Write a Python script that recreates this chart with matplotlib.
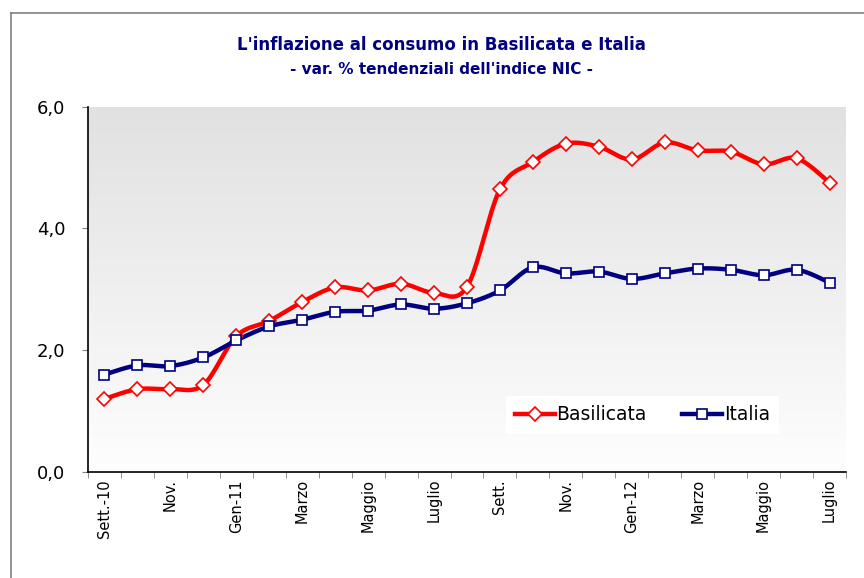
import numpy as np
import matplotlib
matplotlib.use("Agg")
import matplotlib.pyplot as plt
from matplotlib.lines import Line2D

months = ["Sett.-10", "Ott.", "Nov.", "Dic.", "Gen-11", "Feb.", "Marzo", "Apr.",
          "Maggio", "Giu.", "Luglio", "Ago.", "Sett.", "Ott.", "Nov.", "Dic.",
          "Gen-12", "Feb.", "Marzo", "Apr.", "Maggio", "Giu.", "Luglio"]
basilicata = [1.20, 1.36, 1.36, 1.43, 2.23, 2.48, 2.79, 3.03, 2.98, 3.09, 2.94, 3.04,
              4.64, 5.09, 5.39, 5.34, 5.13, 5.41, 5.28, 5.26, 5.05, 5.15, 4.75]
italia = [1.60, 1.75, 1.74, 1.88, 2.16, 2.39, 2.50, 2.63, 2.65, 2.75, 2.68, 2.77,
          2.98, 3.36, 3.26, 3.29, 3.17, 3.26, 3.34, 3.32, 3.23, 3.32, 3.11]
yticks = [0, 2, 4, 6]
ytick_labels = ["0,0", "2,0", "4,0", "6,0"]


def smooth(x, y, n=20):
    """Excel-like smoothed line via cubic Bezier segments."""
    x = np.asarray(x, float)
    y = np.asarray(y, float)
    P = np.column_stack([x, y])
    out = []
    for i in range(len(P) - 1):
        p0 = P[i - 1] if i > 0 else P[i]
        p1 = P[i]
        p2 = P[i + 1]
        p3 = P[i + 2] if i + 2 < len(P) else P[i + 1]
        c1 = p1 + (p2 - p0) / 6.0
        c2 = p2 - (p3 - p1) / 6.0
        t = np.linspace(0, 1, n, endpoint=(i == len(P) - 2))[:, None]
        seg = ((1 - t) ** 3) * p1 + 3 * ((1 - t) ** 2) * t * c1 + 3 * (1 - t) * t ** 2 * c2 + t ** 3 * p2
        out.append(seg)
    seg = np.vstack(out)
    return seg[:, 0], seg[:, 1]


W, H = 864, 578
fig = plt.figure(figsize=(W / 100, H / 100), dpi=100)
fig.patch.set_facecolor("white")

# outer chart border (cropped)
bx, by = 11 / W, 1 - 13 / H
fig.add_artist(Line2D([bx, bx], [0, by], color="#808080", lw=1.2, transform=fig.transFigure))
fig.add_artist(Line2D([bx, 1], [by, by], color="#808080", lw=1.2, transform=fig.transFigure))

ax = fig.add_axes([88 / W, 1 - 472 / H, (846 - 88) / W, (472 - 106.5) / H])
x = np.arange(len(months))
n = len(months)

# gradient background: grey at top, near white at bottom
grad = np.linspace(0.882, 0.995, 256)[:, None]
ax.imshow(np.dstack([grad, grad, grad]), extent=[-0.5, n - 0.5, 0, 6], origin="upper",
          aspect="auto", zorder=0, interpolation="bicubic")
ax.set_xlim(-0.5, n - 0.5)
ax.set_ylim(0, 6)

red = "#FF0000"
navy = "#000080"
for vals, col, mk, ms in [(basilicata, red, "D", 7.0), (italia, navy, "s", 7.5)]:
    sx, sy = smooth(x, vals)
    ax.plot(sx, sy, color=col, lw=3.2, zorder=3, solid_capstyle="round")
    ax.plot(x, vals, linestyle="none", marker=mk, ms=ms, mfc="white", mec=col,
            mew=1.2, zorder=4)

handles = [Line2D([], [], color=red, lw=3.2, marker="D", ms=7.0, mfc="white", mec=red, mew=1.2),
           Line2D([], [], color=navy, lw=3.2, marker="s", ms=7.5, mfc="white", mec=navy, mew=1.2)]
leg = ax.legend(handles, ["Basilicata", "Italia"], ncol=2, loc="center",
                bbox_to_anchor=(0.7315, 0.156), frameon=True, fancybox=False,
                facecolor="white", edgecolor="none", framealpha=1,
                prop={"family": "DejaVu Sans", "size": 13.5},
                handlelength=2.1, handletextpad=0.1, columnspacing=1.9,
                borderpad=0.5, borderaxespad=0)
leg.get_frame().set_linewidth(0)

for s in ["top", "right"]:
    ax.spines[s].set_visible(False)
for s in ["left", "bottom"]:
    ax.spines[s].set_color("black")
    ax.spines[s].set_linewidth(1.2)

ax.set_yticks(yticks)
ax.set_yticklabels(ytick_labels, fontsize=13, family="DejaVu Sans")
ax.tick_params(axis="y", direction="out", length=4.5, color="#808080", pad=12)

ax.set_xticks(x[::2])
ax.set_xticklabels(months[::2], rotation=90, fontsize=10.5, family="DejaVu Sans")
ax.tick_params(axis="x", which="major", length=0, pad=5)
ax.set_xticks(np.arange(-0.5, n, 1.0), minor=True)
ax.tick_params(axis="x", which="minor", direction="out", length=4, color="#808080")

fig.text(0.511, 1 - 45 / H, "L'inflazione al consumo in Basilicata e Italia",
         ha="center", va="center", color=navy, fontsize=12, fontweight="bold",
         family="DejaVu Sans")
fig.text(0.511, 1 - 70 / H, "- var. % tendenziali dell'indice NIC -",
         ha="center", va="center", color=navy, fontsize=11, fontweight="bold",
         family="DejaVu Sans")

fig.savefig("out.png", dpi=100, facecolor="white")
